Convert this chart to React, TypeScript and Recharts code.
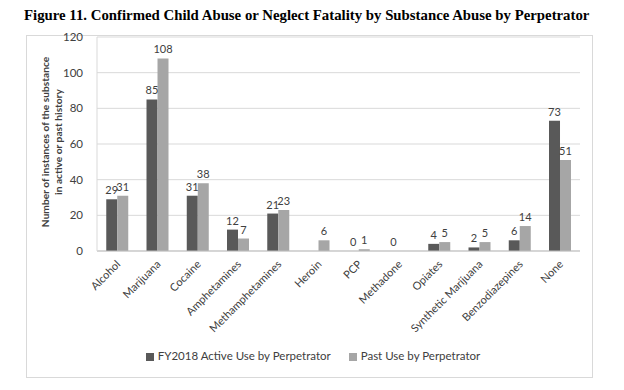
import React from 'react';
import { BarChart, Bar, XAxis, YAxis, CartesianGrid, Legend, LabelList } from 'recharts';

const categories = ['Alcohol', 'Marijuana', 'Cocaine', 'Amphetamines', 'Methamphetamines', 'Heroin', 'PCP', 'Methadone', 'Opiates', 'Synthetic Marijuana', 'Benzodiazepines', 'None'];
const activeUse: (number | null)[] = [29, 85, 31, 12, 21, null, 0, 0, 4, 2, 6, 73];
const pastUse: (number | null)[] = [31, 108, 38, 7, 23, 6, 1, null, 5, 5, 14, 51];
const yTicks = [0, 20, 40, 60, 80, 100, 120];
const seriesNames = ['FY2018 Active Use by Perpetrator', 'Past Use by Perpetrator'];
const title = 'Figure 11. Confirmed Child Abuse or Neglect Fatality by Substance Abuse by Perpetrator';
const yLabel1 = 'Number of instances of the substance';
const yLabel2 = 'in active or past history';

const data = categories.map((c, i) => ({ name: c, active: activeUse[i], past: pastUse[i] }));

const FONT = 'Lato, "Liberation Sans", sans-serif';

const XTick = (props: any) => {
  const { x, y, payload } = props;
  return (
    <text transform={`translate(${x + 4},${y + 6}) rotate(-45)`} textAnchor="end" fontSize={11} fontFamily={FONT} fill="#404040">
      {payload.value}
    </text>
  );
};

const ValueLabel = (props: any) => {
  const { x, y, width, height, value } = props;
  if (value === null || value === undefined) return null;
  const top = Math.min(Number(y), Number(y) + Number(height || 0));
  return (
    <text x={Number(x) + Number(width) / 2} y={top - 5} textAnchor="middle" fontSize={11} fontFamily={FONT} fill="#404040">
      {value}
    </text>
  );
};

const zeroMin = (v: any) => (v === 0 ? 0.01 : 0);

export default function App() {
  return (
    <div style={{ position: 'absolute', left: 0, top: 0, width: 624, height: 390, background: '#fff' }}>
      <svg width={624} height={390} style={{ position: 'absolute', left: 0, top: 0 }}>
        <text x={24} y={20} fontSize={14.8} fontWeight="bold" fontFamily='"Liberation Serif", serif' fill="#000">{title}</text>
        <rect x={26.5} y={35.5} width={566} height={342} fill="none" stroke="#d9d9d9" />
        <text transform="translate(49,142) rotate(-90)" textAnchor="middle" fontSize={10.2} fontWeight="bold" fontFamily={FONT} fill="#404040">{yLabel1}</text>
        <text transform="translate(62,142) rotate(-90)" textAnchor="middle" fontSize={10.2} fontWeight="bold" fontFamily={FONT} fill="#404040">{yLabel2}</text>
      </svg>
      <div style={{ position: 'absolute', left: 0, top: 0 }}>
        <BarChart width={624} height={390} data={data} margin={{ top: 37, right: 44, bottom: 116, left: 67 }} barGap={0} barCategoryGap="23%">
          <CartesianGrid vertical={false} stroke="#d9d9d9" />
          <XAxis dataKey="name" interval={0} tick={<XTick />} tickLine={false} axisLine={{ stroke: '#bfbfbf' }} height={10} />
          <YAxis domain={[0, 120]} ticks={yTicks} width={30} tickLine={false} axisLine={{ stroke: '#d9d9d9' }} tick={{ fontSize: 11.5, fontFamily: FONT, fill: '#404040' }} tickMargin={8} />
          <Bar dataKey="active" name={seriesNames[0]} fill="#595959" minPointSize={zeroMin} isAnimationActive={false}>
            <LabelList dataKey="active" content={<ValueLabel />} />
          </Bar>
          <Bar dataKey="past" name={seriesNames[1]} fill="#a6a6a6" minPointSize={zeroMin} isAnimationActive={false}>
            <LabelList dataKey="past" content={<ValueLabel />} />
          </Bar>
          <Legend iconType="square" iconSize={8} wrapperStyle={{ top: 349, left: 6, width: 624, fontSize: 11.5, fontFamily: FONT, color: '#404040' }} formatter={(v: any, _e: any, i: number) => <span style={{ color: '#404040', marginRight: i === 0 ? 8 : 0 }}>{v}</span>} />
        </BarChart>
      </div>
    </div>
  );
}
